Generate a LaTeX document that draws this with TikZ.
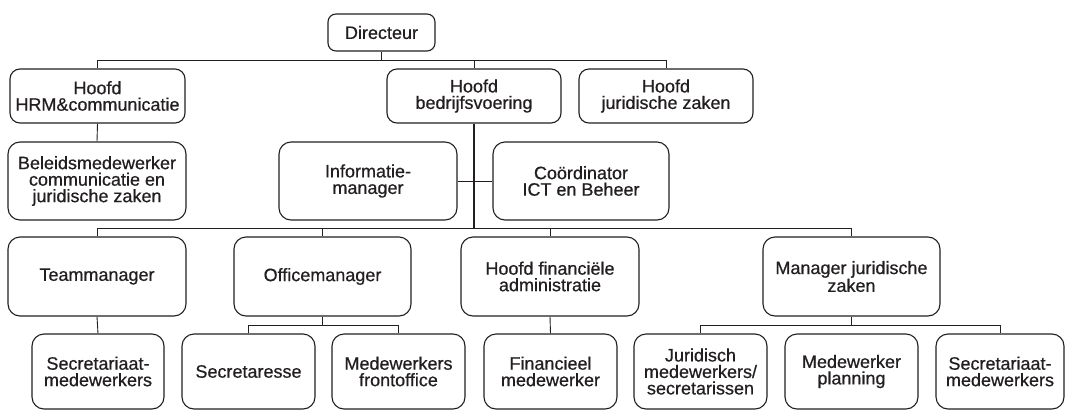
\documentclass[tikz,border=0pt]{standalone}
\usepackage{fontspec}
\setmainfont{Liberation Sans}[FakeBold=0.6]
\definecolor{ink}{RGB}{35,31,32}
\begin{document}
\begin{tikzpicture}[x=1pt,y=-1pt,
  orgbox/.style={draw=ink, text=ink, line width=1.1pt, rounded corners=10pt,
    align=center, inner sep=0pt, font=\fontsize{18}{16.5}\selectfont},
  link/.style={draw=ink, line width=0.9pt},
  trunk/.style={draw=ink, line width=1.3pt}]
\useasboundingbox (0,0) rectangle (1066,410);

% top level
\node[orgbox, minimum width=107pt, minimum height=37pt, rounded corners=8pt] (dir) at (381.5,32.5) {Directeur};

% second row
\node[orgbox, minimum width=175pt, minimum height=54pt] (hrm)  at (97.5,96)  {Hoofd\\HRM\&communicatie};
\node[orgbox, minimum width=174pt, minimum height=54pt] (bedr) at (474,96)   {Hoofd\\bedrijfsvoering};
\node[orgbox, minimum width=174pt, minimum height=54pt] (jur)  at (666,96)   {Hoofd\\juridische zaken};

% staff row
\node[orgbox, minimum width=178pt, minimum height=78pt, rounded corners=12pt] (beleid) at (97,181)  {Beleidsmedewerker\\communicatie en\\juridische zaken};
\node[orgbox, minimum width=178pt, minimum height=78pt, rounded corners=12pt] (info)   at (368,181) {Informatie-\\manager};
\node[orgbox, minimum width=176pt, minimum height=78pt, rounded corners=12pt] (coord)  at (581,181) {Coördinator\\ICT en Beheer};

% managers
\node[orgbox, minimum width=178pt, minimum height=79pt, rounded corners=12pt] (team)   at (97,276.5)    {Teammanager};
\node[orgbox, minimum width=177pt, minimum height=79pt, rounded corners=12pt] (office) at (322.5,276.5) {Officemanager};
\node[orgbox, minimum width=178pt, minimum height=79pt, rounded corners=12pt] (fin)    at (550,276.5)   {Hoofd financiële\\administratie};
\node[orgbox, minimum width=177pt, minimum height=79pt, rounded corners=12pt] (mgr)    at (851.5,276.5) {Manager juridische\\zaken};

% employees
\node[orgbox, minimum width=132pt, minimum height=75pt, rounded corners=12pt] (sec1)  at (98,371.5)    {Secretariaat-\\medewerkers};
\node[orgbox, minimum width=133pt, minimum height=75pt, rounded corners=12pt] (secr)  at (248.5,371.5)  {Secretaresse};
\node[orgbox, minimum width=133pt, minimum height=75pt, rounded corners=12pt] (front) at (398.5,371.5)  {Medewerkers\\frontoffice};
\node[orgbox, minimum width=133pt, minimum height=75pt, rounded corners=12pt] (finmw) at (550.5,371.5)  {Financieel\\medewerker};
\node[orgbox, minimum width=133pt, minimum height=75pt, rounded corners=12pt] (jurmw) at (700.5,371.5)  {Juridisch\\medewerkers/\\secretarissen};
\node[orgbox, minimum width=133pt, minimum height=75pt, rounded corners=12pt] (plan)  at (851.5,371.5)  {Medewerker\\planning};
\node[orgbox, minimum width=128pt, minimum height=75pt, rounded corners=12pt] (sec2)  at (1000,371.5)   {Secretariaat-\\medewerkers};

% bus levels
\coordinate (busTop) at (0,60);
\coordinate (busMid) at (0,228);
\coordinate (busLow) at (0,325);

% director to second row
\draw[link] (dir.south) -- (dir.south |- busTop);
\draw[link] (hrm.north) |- (jur.north |- busTop) -- (jur.north);
\draw[link] (bedr.north) -- (bedr.north |- busTop);

% HRM branch
\draw[link] (hrm.south) -- (beleid.north);

% operations trunk
\draw[trunk] (bedr.south) -- (bedr.south |- busMid);
\draw[link] (info.east) -- (coord.west);
\draw[link] (team.north) |- (mgr.north |- busMid) -- (mgr.north);
\draw[link] (office.north) -- (office.north |- busMid);
\draw[link] (fin.north) -- (fin.north |- busMid);

% teams
\draw[link] (team.south) -- (sec1.north);
\draw[link] (office.south) -- (office.south |- busLow);
\draw[link] (secr.north) |- (front.north |- busLow) -- (front.north);
\draw[link] (fin.south) -- (finmw.north);
\draw[link] (mgr.south) -- (mgr.south |- busLow);
\draw[link] (jurmw.north) |- (sec2.north |- busLow) -- (sec2.north);
\end{tikzpicture}
\end{document}
